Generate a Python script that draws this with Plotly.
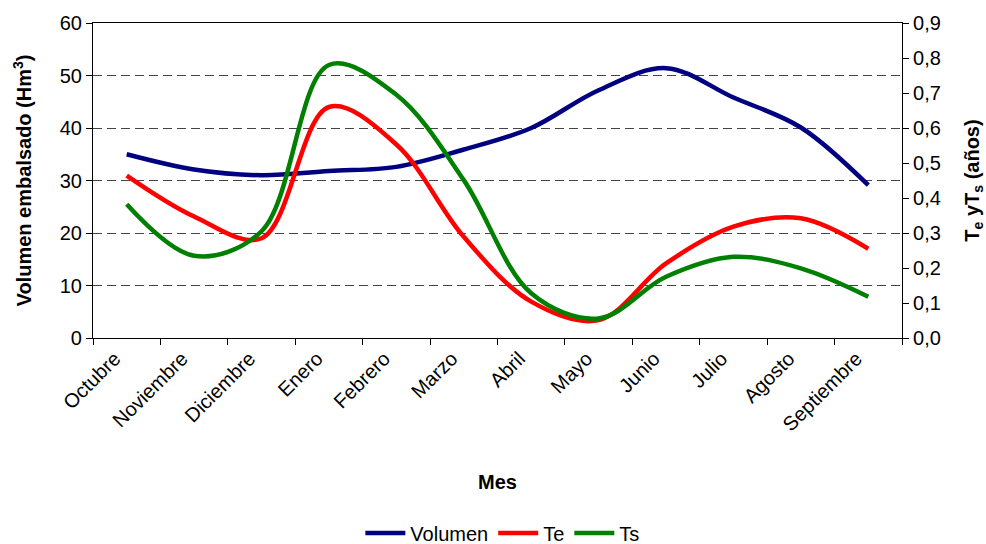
import plotly.graph_objects as go

meses = ["Octubre", "Noviembre", "Diciembre", "Enero", "Febrero", "Marzo",
         "Abril", "Mayo", "Junio", "Julio", "Agosto", "Septiembre"]
volumen = [35.0, 32.1, 31.0, 31.8, 32.6, 35.9, 40.0, 47.2, 51.4, 45.8, 40.1, 29.1]
te = [0.464, 0.347, 0.285, 0.660, 0.553, 0.289, 0.104, 0.051, 0.213, 0.318, 0.342, 0.255]
ts = [0.382, 0.235, 0.305, 0.780, 0.695, 0.451, 0.128, 0.056, 0.175, 0.232, 0.199, 0.118]

FONT = "Liberation Sans, Arial, sans-serif"

fig = go.Figure()
fig.add_trace(go.Scatter(x=meses, y=volumen, name="Volumen", mode="lines",
                         line=dict(color="#000080", width=4.5, shape="spline")))
fig.add_trace(go.Scatter(x=meses, y=te, name="Te", mode="lines", yaxis="y2",
                         line=dict(color="#FF0000", width=4.5, shape="spline")))
fig.add_trace(go.Scatter(x=meses, y=ts, name="Ts", mode="lines", yaxis="y2",
                         line=dict(color="#008000", width=4.5, shape="spline")))

fig.update_layout(
    width=986, height=544,
    margin=dict(l=93, r=84, t=23, b=206, autoexpand=False),
    paper_bgcolor="white", plot_bgcolor="white",
    separators=",.",
    font=dict(family=FONT, size=20, color="black"),
    showlegend=True,
    legend=dict(orientation="h", xanchor="center", x=0.506,
                yanchor="middle", y=-0.619, font=dict(size=20), itemwidth=40,
                tracegroupgap=0),
    xaxis=dict(
        type="category", range=[-0.5, 11.5], tickson="boundaries",
        ticks="outside", ticklen=6, tickcolor="black", tickangle=-45,
        ticklabelshift=-12,
        showline=True, linecolor="black", linewidth=1.2, mirror=True,
        showgrid=False, zeroline=False,
        title=dict(text="<b>Mes</b>", font=dict(size=20), standoff=40),
    ),
    yaxis=dict(
        range=[0, 60], dtick=10, ticks="outside", ticklen=6, tickcolor="black",
        showline=True, linecolor="black", linewidth=1.2,
        showgrid=True, gridcolor="#444444", griddash="9px,5px", gridwidth=1.3,
        zeroline=False,
        title=dict(text="<b>Volumen embalsado (Hm<sup>3</sup>)</b>", font=dict(size=20), standoff=22),
    ),
    yaxis2=dict(
        range=[0, 0.9], dtick=0.1, tickformat=".1f", overlaying="y", side="right",
        ticks="outside", ticklen=6, tickcolor="black",
        showline=True, linecolor="black", linewidth=1.2,
        showgrid=False, zeroline=False,
        title=dict(text="<b>T<sub>e</sub> yT<sub>s</sub> (años)</b>", font=dict(size=20), standoff=26),
    ),
)

fig.write_html("out.html", config={"displayModeBar": False},
               post_script="document.body.style.margin='0';")
